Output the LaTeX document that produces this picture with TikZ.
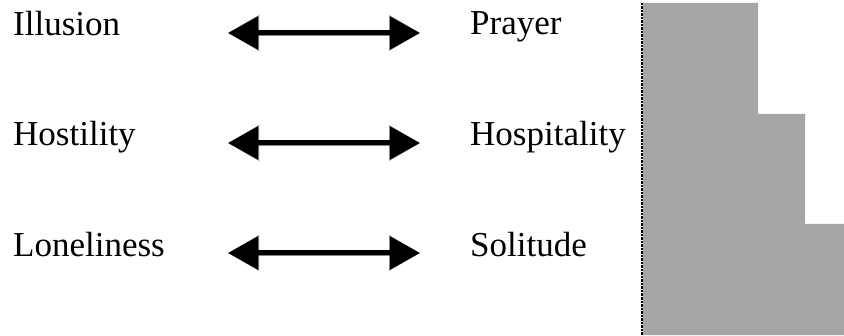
\documentclass[tikz,border=0pt]{standalone}
\usepackage{fontspec}
\setmainfont{Liberation Serif}
\usetikzlibrary{arrows.meta}
\tikzset{
  word/.style={anchor=base west, inner sep=0pt, font=\fontsize{35}{41}\selectfont},
  dblarrow/.style={line width=5pt, {Triangle[length=30pt,width=32pt]}-{Triangle[length=30pt,width=32pt]}},
  shadowarrow/.style={line width=6pt, draw=black, draw opacity=0.12, {Triangle[length=31pt,width=34pt]}-{Triangle[length=31pt,width=34pt]}},
  bar/.style={fill=black!35, draw=none},
  divider/.style={draw=black, line width=1.5pt, dash pattern=on 2.5pt off 1pt}
}
\begin{document}
\begin{tikzpicture}[x=1pt,y=1pt]
\useasboundingbox (0,0) rectangle (844,335);
% words
\node[word] (l1) at (13,299) {Illusion};
\node[word] (l2) at (13,189) {Hostility};
\node[word] (l3) at (13,78) {Loneliness};
\node[word] (r1) at (470,300) {Prayer};
\node[word] (r2) at (470,189) {Hospitality};
\node[word] (r3) at (470,78) {Solitude};
% arrow end points
\coordinate (a1) at (228,302);
\coordinate (b1) at (420,302);
\coordinate (a2) at (228,192);
\coordinate (b2) at (420,192);
\coordinate (a3) at (228,82);
\coordinate (b3) at (420,82);
% shadows
\foreach \i in {1,2,3}{
  \foreach \dx/\dy in {2/-4,4/-5,6/-7,4/-7,5/-5}{
    \draw[shadowarrow, fill opacity=0.12, fill=black, shift={(\dx,\dy)}] (a\i) -- (b\i);
  }
}
% arrows
\draw[dblarrow] (a1) -- (b1);
\draw[dblarrow] (a2) -- (b2);
\draw[dblarrow] (a3) -- (b3);
% staircase
\fill[bar] (643,332) -- (758,332) -- (758,221) -- (805,221) -- (805,111) -- (844,111) -- (844,0) -- (643,0) -- cycle;
\coordinate (dtop) at (642,332);
\coordinate (dbot) at (642,0);
\draw[divider] (dtop) -- (dbot);
\end{tikzpicture}
\end{document}
